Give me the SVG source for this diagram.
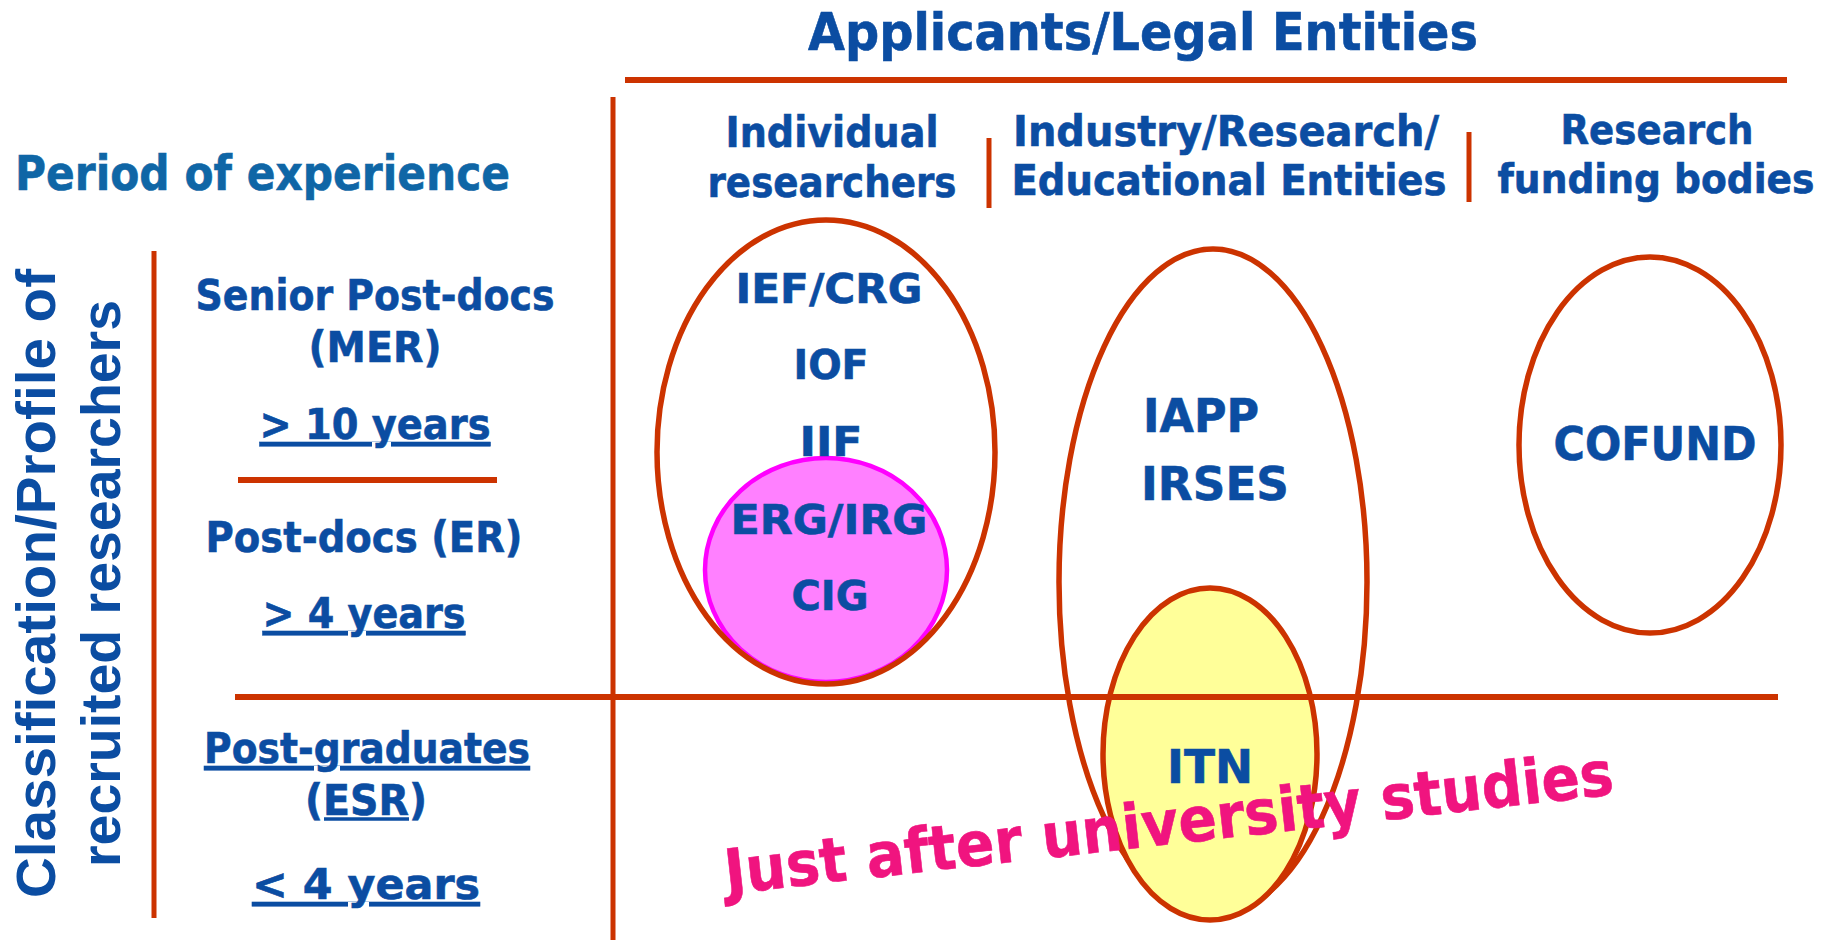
<svg xmlns="http://www.w3.org/2000/svg" width="1834" height="940" viewBox="0 0 1834 940">
<style>
.t{font-family:"DejaVu Sans","Verdana",sans-serif;font-weight:bold;fill:#0B4DA2;stroke:#0B4DA2;stroke-width:0.6}
.c{text-anchor:middle}
.u{text-decoration:underline}
.rot{font-family:"Liberation Sans","Arial",sans-serif;font-weight:bold;fill:#0B4DA2;font-size:56px}
.ln{stroke:#CC3300;fill:none}
.ov{stroke:#CC3300;stroke-width:5.5}
</style>
<rect width="1834" height="940" fill="#FFFFFF"/>
<g id="title">
<text class="t c" x="1143" y="50" font-size="52" textLength="670" lengthAdjust="spacingAndGlyphs">Applicants/Legal Entities</text>
</g>
<g id="period">
<text class="t" x="15" y="190" font-size="48" style="fill:#0F66A6;stroke:#0F66A6" textLength="495" lengthAdjust="spacingAndGlyphs">Period of experience</text>
</g>
<g id="classification">
<text class="rot" transform="translate(55,898) rotate(-90)" textLength="629" lengthAdjust="spacingAndGlyphs">Classification/Profile of</text>
<text class="rot" transform="translate(120,867) rotate(-90)" textLength="567" lengthAdjust="spacingAndGlyphs">recruited researchers</text>
</g>
<g id="col-individual">
<text class="t c" x="832" y="147" font-size="42" textLength="213" lengthAdjust="spacingAndGlyphs">Individual</text>
<text class="t c" x="832" y="197" font-size="42" textLength="249" lengthAdjust="spacingAndGlyphs">researchers</text>
</g>
<g id="col-industry">
<text class="t c" x="1226" y="146" font-size="42" textLength="426" lengthAdjust="spacingAndGlyphs">Industry/Research/</text>
<text class="t c" x="1229" y="195" font-size="42" textLength="435" lengthAdjust="spacingAndGlyphs">Educational  Entities</text>
</g>
<g id="col-funding">
<text class="t c" x="1657" y="144" font-size="41" textLength="193" lengthAdjust="spacingAndGlyphs">Research</text>
<text class="t c" x="1656" y="193" font-size="40" textLength="317" lengthAdjust="spacingAndGlyphs">funding bodies</text>
</g>
<g id="row-senior">
<text class="t c" x="375" y="310" font-size="42" textLength="359" lengthAdjust="spacingAndGlyphs">Senior Post-docs</text>
<text class="t c" x="375" y="362" font-size="42" textLength="133" lengthAdjust="spacingAndGlyphs">(MER)</text>
<text class="t c u" x="375" y="439" font-size="42" textLength="231" lengthAdjust="spacingAndGlyphs">&gt; 10 years</text>
</g>
<g id="row-er">
<text class="t c" x="364" y="552" font-size="42" textLength="317" lengthAdjust="spacingAndGlyphs">Post-docs (ER)</text>
<text class="t c u" x="364" y="628" font-size="42" textLength="203" lengthAdjust="spacingAndGlyphs">&gt; 4 years</text>
</g>
<g id="row-esr">
<text class="t c u" x="367" y="763" font-size="42" textLength="326" lengthAdjust="spacingAndGlyphs">Post-graduates</text>
<text class="t c" x="366" y="815" font-size="42" textLength="122" lengthAdjust="spacingAndGlyphs">(ESR)</text>
<line x1="324" y1="819" x2="409" y2="819" stroke="#0B4DA2" stroke-width="3.5"/>
<text class="t c u" x="366" y="899" font-size="42" textLength="228" lengthAdjust="spacingAndGlyphs">&lt; 4 years</text>
</g>
<g id="node-individual">
<ellipse cx="826" cy="570" rx="121" ry="112" fill="#FF80FF" stroke="#FF00FF" stroke-width="4.5"/>
<ellipse class="ov" cx="826" cy="452" rx="169" ry="232" fill="none"/>
<text class="t c" x="829" y="303" font-size="41" textLength="187" lengthAdjust="spacingAndGlyphs">IEF/CRG</text>
<text class="t c" x="831" y="379" font-size="41" textLength="75" lengthAdjust="spacingAndGlyphs">IOF</text>
<text class="t c" x="831" y="456" font-size="41" textLength="63" lengthAdjust="spacingAndGlyphs">IIF</text>
<text class="t c" x="829" y="534" font-size="41" textLength="197" lengthAdjust="spacingAndGlyphs">ERG/IRG</text>
<text class="t c" x="830" y="610" font-size="41" textLength="77" lengthAdjust="spacingAndGlyphs">CIG</text>
</g>
<g id="node-industry">
<ellipse class="ov" cx="1213" cy="582" rx="154" ry="333" fill="none"/>
<ellipse class="ov" cx="1210" cy="754" rx="107" ry="166" fill="#FFFF99"/>
<text class="t" x="1143" y="432" font-size="47" textLength="116" lengthAdjust="spacingAndGlyphs">IAPP</text>
<text class="t" x="1141" y="500" font-size="47" textLength="148" lengthAdjust="spacingAndGlyphs">IRSES</text>
<text class="t c" x="1210" y="783" font-size="47" textLength="86" lengthAdjust="spacingAndGlyphs">ITN</text>
</g>
<g id="node-funding">
<ellipse class="ov" cx="1650" cy="445" rx="131" ry="188" fill="none"/>
<text class="t c" x="1655" y="460" font-size="47" textLength="203" lengthAdjust="spacingAndGlyphs">COFUND</text>
</g>
<g id="connectors">
<line class="ln" x1="625" y1="80" x2="1787" y2="80" stroke-width="6"/>
<line class="ln" x1="613" y1="97" x2="613" y2="940" stroke-width="5"/>
<line class="ln" x1="154" y1="251" x2="154" y2="918" stroke-width="5"/>
<line class="ln" x1="238" y1="480" x2="497" y2="480" stroke-width="6"/>
<line class="ln" x1="235" y1="697" x2="1778" y2="697" stroke-width="6"/>
<line class="ln" x1="989" y1="138" x2="989" y2="208" stroke-width="5"/>
<line class="ln" x1="1469" y1="132" x2="1469" y2="202" stroke-width="5"/>
</g>
<g id="esr-note">
<text class="t" x="727" y="894" font-size="62" style="fill:#F0147F;stroke:#F0147F" transform="rotate(-6.4 727 894)" textLength="894" lengthAdjust="spacingAndGlyphs">Just after university studies</text>
</g>
</svg>
